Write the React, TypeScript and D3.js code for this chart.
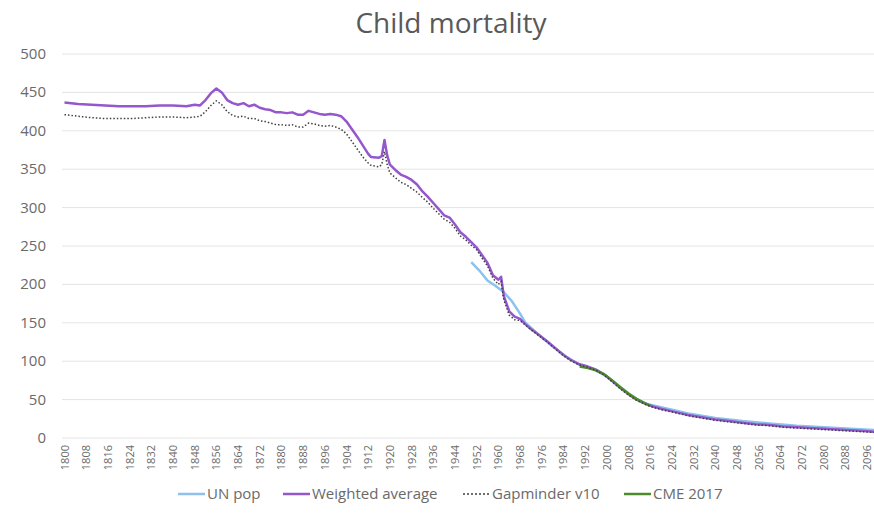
import React from "react";
import * as d3 from "d3";

const weightedYears = [1800,1805,1810,1815,1820,1825,1830,1835,1840,1845,1848,1850,1852,1854,1856,1858,1860,1862,1864,1866,1868,1870,1872,1874,1876,1878,1880,1882,1884,1886,1888,1890,1892,1894,1896,1898,1900,1902,1904,1906,1908,1910,1912,1913,1916,1917,1918,1919,1920,1922,1924,1926,1928,1930,1932,1934,1936,1938,1940,1942,1944,1946,1948,1950,1952,1954,1956,1958,1960,1961,1962,1964,1966,1968,1970,1972,1975,1978,1981,1984,1987,1990,1993,1996,1999,2002,2005,2008,2011,2014,2017,2020,2025,2030,2035,2040,2045,2050,2055,2060,2065,2070,2075,2080,2085,2090,2095,2100];
const weightedValues = [437,435,434,433,432,432,432,433,433,432,434,433,440,449,455,450,440,436,434,436,432,434,430,428,427,424,424,423,424,421,421,426,424,422,421,422,421,419,412,402,392,381,370,366,365,367,388,368,356,349,343,340,336,330,321,314,306,298,290,287,278,268,262,255,248,238,228,212,206,210,185,165,158,155,148,142,134,126,117,108,101,96,93,89,83,74,65,57,50,45,41,38,34,30,27,24,22,20,18,17,15,14,13,12,11,10,9,8];

const gapYears = [1800,1805,1810,1815,1820,1825,1830,1835,1840,1845,1848,1850,1852,1854,1856,1858,1860,1862,1864,1866,1868,1870,1872,1874,1876,1878,1880,1882,1884,1886,1888,1890,1892,1894,1896,1898,1900,1902,1904,1906,1908,1910,1912,1913,1916,1917,1918,1919,1920,1922,1924,1926,1928,1930,1932,1934,1936,1938,1940,1942,1944,1946,1948,1950,1952,1954,1956,1958,1960,1961,1962,1964,1966,1968,1970,1972,1975,1978,1981,1984,1987,1990,1993,1996,1999,2002,2005,2008,2011,2014,2017,2020,2025,2030,2035,2040,2045,2050,2055,2060,2065,2070,2075,2080,2085,2090,2095,2100];
const gapValues = [421,419,417,416,416,416,417,418,418,417,418,419,425,433,439,434,425,420,418,419,416,416,413,412,410,408,408,407,408,405,405,410,409,407,406,407,405,402,396,386,376,366,358,355,353,356,373,356,345,339,333,330,325,320,313,307,299,292,285,281,273,263,258,251,245,234,224,208,200,204,180,160,154,153,147,141,133,125,116,107,100,95,92,88,82,73,64,56,49,44,40,37,33,29,26,23,21,19,17,16,14,13,12,11,10,9,8,7];

const unYears = [1950,1953,1956,1959,1962,1965,1968,1970,1975,1980,1985,1990,1995,2000,2005,2010,2015,2020,2030,2040,2050,2060,2070,2080,2090,2100];
const unValues = [229,218,205,198,190,178,162,150,134,119,106,95,90,80,66,52,44,40,32,26,22,19,16,14,12,10];

const cmeYears = [1990,1993,1996,1999,2002,2005,2008,2011,2014,2016];
const cmeValues = [93,91,88,83,75,66,58,51,45,42];

const yTicks = [0,50,100,150,200,250,300,350,400,450,500];
const xTickYears = d3.range(1800, 2097, 8);

const W = 874, H = 515;
const plotLeft = 62, plotRight = 874;

export default function App() {
  const x = d3.scaleLinear().domain([1800, 2100]).range([64.5, 878]);
  const y = d3.scaleLinear().domain([0, 500]).range([438, 54]);
  const line = (ys: number[], vs: number[]) =>
    d3.line<number>().x((_, i) => x(ys[i])).y((d) => y(d))(vs) || "";

  const font = "'Open Sans', sans-serif";
  const legend = [
    { label: "UN pop", color: "#8cc2ec", dash: "", lx: 178 },
    { label: "Weighted average", color: "#9457cc", dash: "", lx: 283 },
    { label: "Gapminder v10", color: "#404040", dash: "2 2", lx: 463 },
    { label: "CME 2017", color: "#4c8c2c", dash: "", lx: 624 },
  ];

  return (
    <svg width={W} height={H} style={{ position: "absolute", left: 0, top: 0, background: "#fff" }} fontFamily={font}>
      <rect width={W} height={H} fill="#fff" />
      <text x={451} y={33} textAnchor="middle" fontSize={28} fill="#595959">Child mortality</text>
      {yTicks.map((t) => (
        <g key={t}>
          <line x1={plotLeft} x2={plotRight} y1={y(t)} y2={y(t)} stroke="#e4e4e4" strokeWidth={1} />
          <text x={46} y={y(t) + 5} textAnchor="end" fontSize={15} fill="#6a6a6a">{t}</text>
        </g>
      ))}
      {xTickYears.map((yr) => (
        <text key={yr} transform={`translate(${x(yr) + 4},${445}) rotate(-90)`} textAnchor="end" fontSize={11} fill="#6a6a6a">{yr}</text>
      ))}
      <path d={line(unYears, unValues)} fill="none" stroke="#8cc2ec" strokeWidth={2.5} />
      <path d={line(weightedYears, weightedValues)} fill="none" stroke="#9457cc" strokeWidth={2.5} strokeLinejoin="round" />
      <path d={line(cmeYears, cmeValues)} fill="none" stroke="#4c8c2c" strokeWidth={2.5} />
      <path d={line(gapYears, gapValues)} fill="none" stroke="#404040" strokeWidth={1.5} strokeDasharray="1.5 2" />
      {legend.map((l) => (
        <g key={l.label}>
          <line x1={l.lx} x2={l.lx + 27} y1={494} y2={494} stroke={l.color} strokeWidth={l.dash ? 1.5 : 2.5} strokeDasharray={l.dash} />
          <text x={l.lx + 29} y={499} fontSize={15} fill="#6a6a6a">{l.label}</text>
        </g>
      ))}
    </svg>
  );
}
